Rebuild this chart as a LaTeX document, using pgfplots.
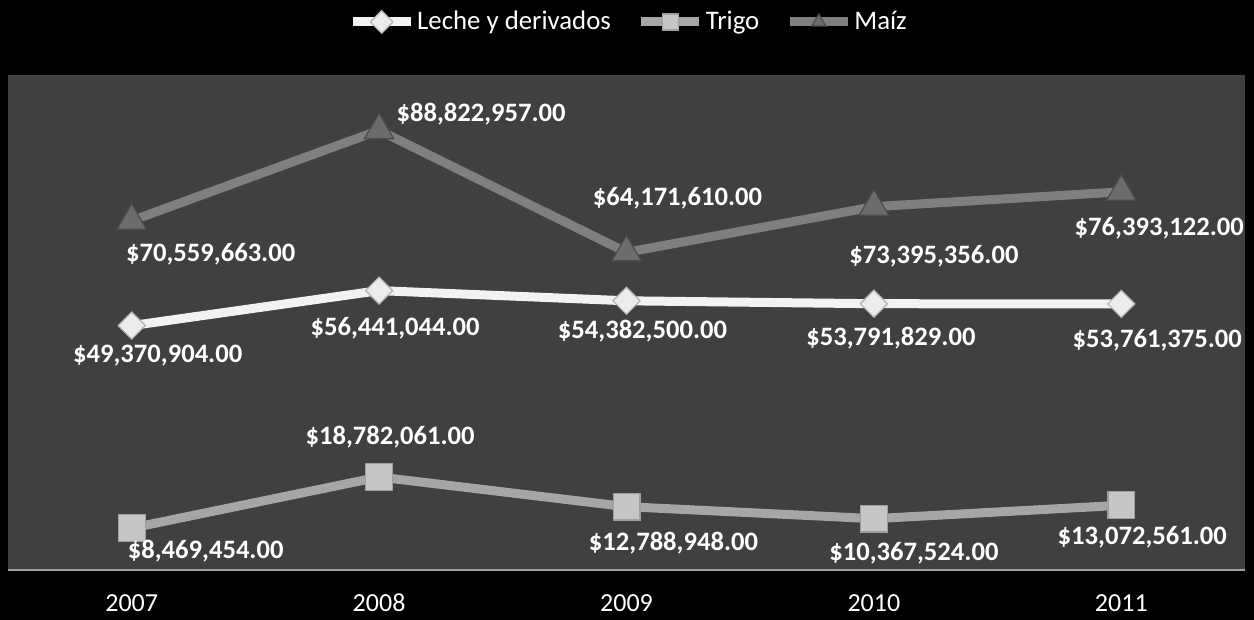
\documentclass[border=0pt]{standalone}
\usepackage{pgfplots}
\usepackage{pgfplotstable}
\pgfplotsset{compat=1.18}
\usepackage{fontspec}
\setmainfont{Carlito}
\definecolor{plotbg}{HTML}{404040}
\definecolor{lecheC}{HTML}{F2F2F2}
\definecolor{trigoC}{HTML}{A6A6A6}
\definecolor{maizC}{HTML}{7F7F7F}
\pgfplotstableread{
x y lbl dx dy
0 49370904 49,370,904.00 13 -15
1 56441044 56,441,044.00 8 -19
2 54382500 54,382,500.00 8 -15
3 53791829 53,791,829.00 8.5 -17
4 53761375 53,761,375.00 18 -18
}\leche
\pgfplotstableread{
x y lbl dx dy
0 8469454 8,469,454.00 37 -11.5
1 18782061 18,782,061.00 5.5 20
2 12788948 12,788,948.00 23.5 -18
3 10367524 10,367,524.00 20 -17.5
4 13072561 13,072,561.00 10.5 -16
}\trigo
\pgfplotstableread{
x y lbl dx dy
0 70559663 70,559,663.00 39.5 -16.5
1 88822957 88,822,957.00 51 8
2 64171610 64,171,610.00 25.5 27
3 73395356 73,395,356.00 30 -25
4 76393122 76,393,122.00 19 -18
}\maiz
\begin{document}
\begin{tikzpicture}
\fill[black] (0,0) rectangle (627pt,310pt);
\useasboundingbox (0,0) rectangle (627pt,310pt);
\begin{axis}[
  at={(4pt,25pt)}, anchor=south west,
  width=618.5pt, height=247.5pt, scale only axis,
  xmin=-0.5, xmax=4.5, ymin=0, ymax=100000000,
  axis background/.style={fill=plotbg},
  axis x line*=bottom, axis y line=none,
  x axis line style={draw=gray!75, line width=1pt, -},
  xtick={0,1,2,3,4}, xticklabels={2007,2008,2009,2010,2011},
  ytick=\empty, major tick length=0pt,
  xticklabel style={text=white, font=\fontsize{13}{15}\selectfont, anchor=base, yshift=-21pt},
  clip=false,
  point meta=explicit symbolic,
  visualization depends on={\thisrow{dx}\as\dx},
  visualization depends on={\thisrow{dy}\as\dy},
  nodes near coords={\$\pgfplotspointmeta},
  every node near coord/.append style={anchor=center, xshift=\dx pt, yshift=\dy pt,
     font=\fontsize{13.3}{15}\selectfont\bfseries, text=white},
  legend style={at={(0.5,1)}, anchor=center, xshift=1pt, yshift=26.5pt, fill=black, draw=none,
     text=white, font=\fontsize{13.4}{15}\selectfont, legend columns=-1,
     nodes={inner xsep=1pt},
     /tikz/every even column/.append style={column sep=12pt}},
  legend image code/.code={\draw[mark repeat=2,mark phase=2,#1,mark size=4pt]
     plot coordinates {(0pt,0pt) (14.5pt,0pt) (29pt,0pt)};},
]
\addplot[color=lecheC, line width=4.5pt, mark=square*,
  mark options={rotate=45, fill=gray!15, draw=gray!60, line width=0.6pt}, mark size=4.8pt]
  table[x=x,y=y,meta=lbl]{\leche};
\addlegendentry{Leche y derivados}
\addplot[color=trigoC, line width=4.5pt, mark=square*,
  mark options={fill=gray!45, draw=gray!75, line width=0.6pt}, mark size=6.7pt]
  table[x=x,y=y,meta=lbl]{\trigo};
\addlegendentry{Trigo}
\addplot[color=maizC, line width=4.5pt, mark=triangle*,
  mark options={fill=gray!85!black, draw=black!70, line width=0.6pt}, mark size=8.5pt]
  table[x=x,y=y,meta=lbl]{\maiz};
\addlegendentry{Maíz}
\end{axis}
\end{tikzpicture}
\end{document}
